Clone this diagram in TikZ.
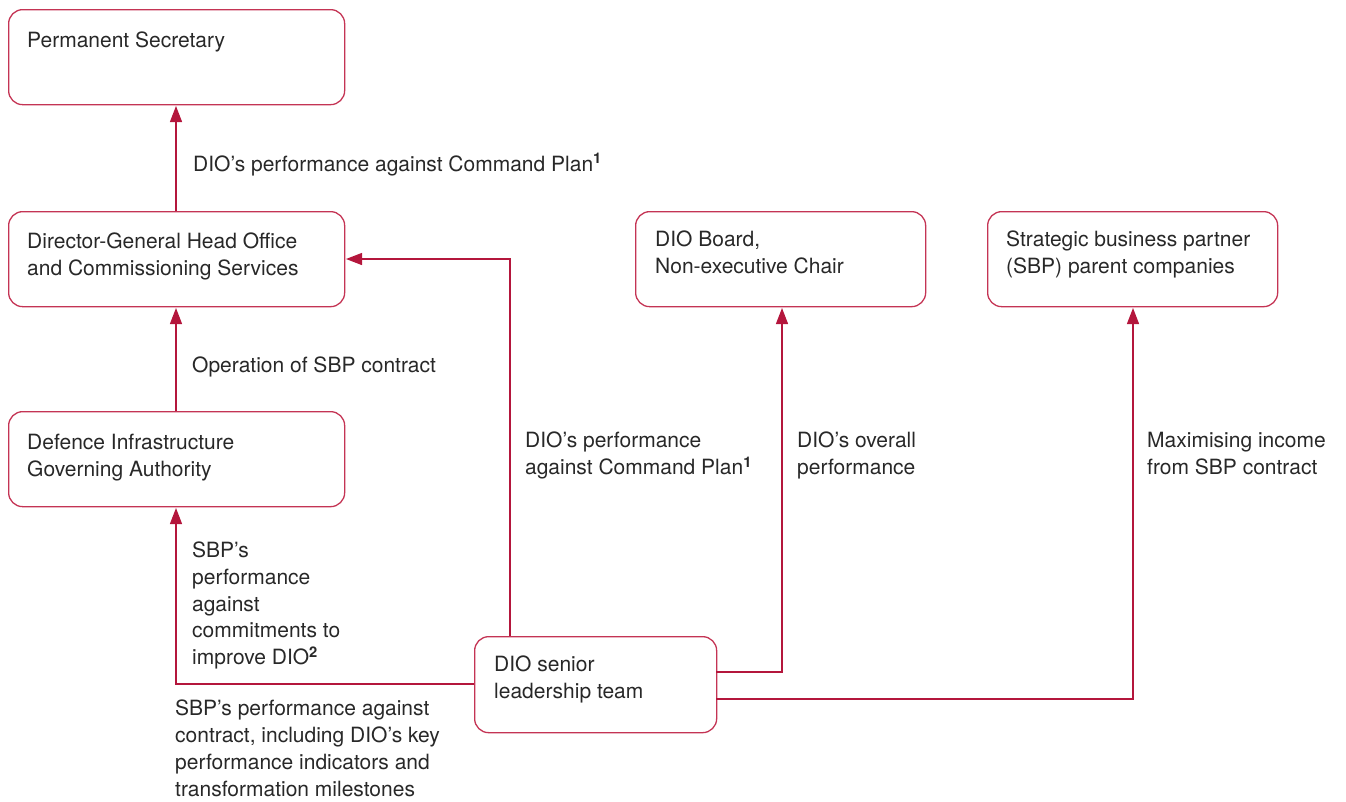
\documentclass[tikz,border=0pt]{standalone}
\usepackage{fontspec}
\setmainfont{TeX Gyre Heros}
\usetikzlibrary{arrows.meta}
\definecolor{lineRed}{RGB}{180,22,60}
\definecolor{boxRed}{RGB}{196,52,84}
\definecolor{txt}{RGB}{40,40,40}
\newcommand{\fn}[1]{\textsuperscript{\bfseries #1}}
\begin{document}
\begin{tikzpicture}[x=1pt,y=-1pt,
  box/.style={draw=boxRed,line width=1.3pt,rounded corners=14pt,inner sep=0pt},
  lbl/.style={anchor=north west,inner sep=0pt,align=left,text=txt,
    font=\fontsize{21}{26.7}\selectfont},
  conn/.style={draw=lineRed,line width=1.3pt},
  arr/.style={conn,-{Triangle[width=12pt,length=16pt]},shorten >=2pt}]
\useasboundingbox (0,0) rectangle (1346,801);
% boxes
\node[box,minimum width=336pt,minimum height=95pt,anchor=north west] (ps) at (8,9) {};
\node[box,minimum width=336pt,minimum height=95pt,anchor=north west] (dg) at (8,211) {};
\node[box,minimum width=336pt,minimum height=95pt,anchor=north west] (diga) at (8,411) {};
\node[box,minimum width=290pt,minimum height=95pt,anchor=north west] (board) at (635,211) {};
\node[box,minimum width=290pt,minimum height=95pt,anchor=north west] (sbp) at (987,211) {};
\node[box,minimum width=242pt,minimum height=96pt,anchor=north west] (slt) at (474,636) {};
% box texts
\node[lbl] (tps) at (27,32) {Permanent Secretary};
\node[lbl] (tdg) at (27,233) {Director-General Head Office\\and Commissioning Services};
\node[lbl] (tdiga) at (27,434) {Defence Infrastructure\\Governing Authority};
\node[lbl] (tboard) at (655,231) {DIO Board,\\Non-executive Chair};
\node[lbl] (tsbp) at (1006,231) {Strategic business partner\\(SBP) parent companies};
\node[lbl] (tslt) at (494,656) {DIO senior\\leadership team};
% connector coordinates
\coordinate (a1) at (176,211);
\coordinate (a1e) at (176,104);
\coordinate (a2) at (176,411);
\coordinate (a2e) at (176,306);
\coordinate (sltL) at (474,684);
\coordinate (c3) at (176,684);
\coordinate (a3e) at (176,506);
\coordinate (sltT) at (510,636);
\coordinate (c4) at (510,259);
\coordinate (a4e) at (344,259);
\coordinate (sltR1) at (716,672);
\coordinate (c5) at (782,672);
\coordinate (a5e) at (782,306);
\coordinate (sltR2) at (716,699);
\coordinate (c6) at (1133,699);
\coordinate (a6e) at (1133,306);
% connectors
\draw[arr] (a1) -- (a1e);
\draw[arr] (a2) -- (a2e);
\draw[arr] (sltL) -- (c3) -- (a3e);
\draw[arr] (sltT) -- (c4) -- (a4e);
\draw[arr] (sltR1) -- (c5) -- (a5e);
\draw[arr] (sltR2) -- (c6) -- (a6e);
% connector labels
\node[lbl] (l1) at (193,153) {DIO’s performance against Command Plan\fn{1}};
\node[lbl] (l2) at (192,357) {Operation of SBP contract};
\node[lbl] (l3) at (192,542) {SBP’s\\performance\\against\\commitments to\\improve DIO\fn{2}};
\node[lbl] (l4) at (175,700) {SBP’s performance against\\contract, including DIO’s key\\performance indicators and\\transformation milestones};
\node[lbl] (l5) at (525,432) {DIO’s performance\\against Command Plan\fn{1}};
\node[lbl] (l6) at (797,432) {DIO’s overall\\performance};
\node[lbl] (l7) at (1147,432) {Maximising income\\from SBP contract};
\end{tikzpicture}
\end{document}
